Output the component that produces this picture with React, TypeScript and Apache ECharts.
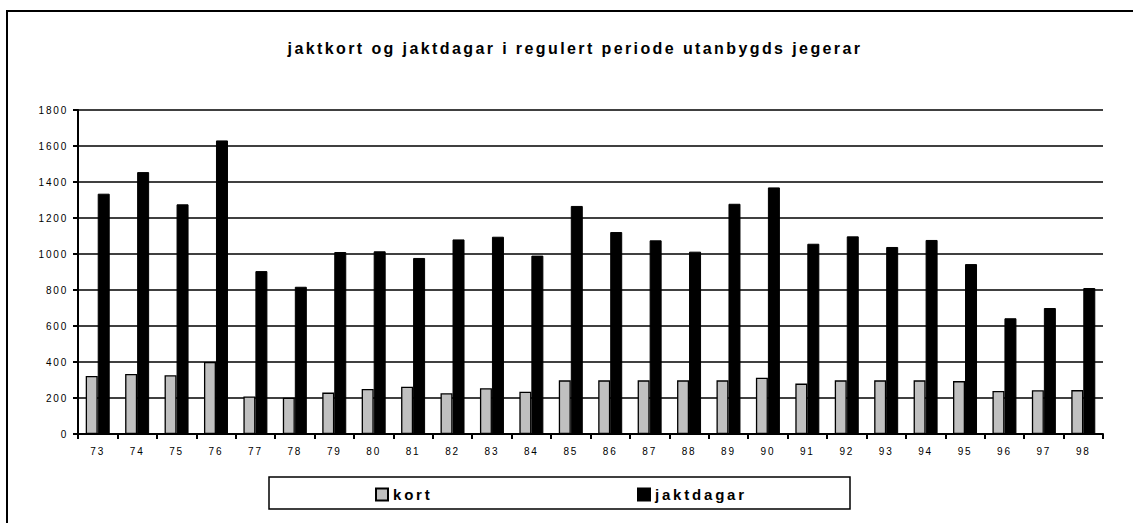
import React, { useEffect, useRef } from "react";
import * as echarts from "echarts";

const TITLE = "jaktkort og jaktdagar i regulert periode utanbygds jegerar";
const years = ["73","74","75","76","77","78","79","80","81","82","83","84","85","86","87","88","89","90","91","92","93","94","95","96","97","98"];
const kort = [322,333,326,400,209,202,230,250,263,226,254,235,298,298,298,298,298,313,280,298,298,298,294,239,243,244];
const jaktdagar = [1335,1455,1276,1631,905,818,1011,1015,978,1081,1096,991,1267,1122,1076,1013,1279,1370,1057,1098,1039,1078,944,643,700,811];

const FONT = '"Liberation Sans", Arial, sans-serif';

export default function App() {
  const ref = useRef<HTMLDivElement>(null);
  useEffect(() => {
    const chart = echarts.init(ref.current!, null, { renderer: "svg" });
    const option: any = {
      animation: false,
      backgroundColor: "#fff",
      grid: { left: 78, right: 30, top: 110, bottom: 89, containLabel: false },
      graphic: [
        { type: "rect", z: 0, shape: { x: 7, y: 11, width: 1140, height: 520 }, style: { fill: "none", stroke: "#000", lineWidth: 2 } },
        { type: "rect", z: 0, shape: { x: 269, y: 477, width: 581, height: 32 }, style: { fill: "#fff", stroke: "#000", lineWidth: 1.5 } },
        { type: "text", z: 5, x: 575, y: 48, style: { text: TITLE, fontSize: 16, fontWeight: "bold", fontFamily: FONT, fill: "#000", align: "center", verticalAlign: "middle" } },
      ],
      legend: [
        { data: ["kort"], left: 375, top: 487, padding: 0, itemWidth: 12, itemHeight: 12, icon: "rect", z: 10,
          textStyle: { fontSize: 15, fontWeight: "bold", fontFamily: FONT, color: "#000" } },
        { data: ["jaktdagar"], left: 637, top: 487, padding: 0, itemWidth: 12, itemHeight: 12, icon: "rect", z: 10,
          textStyle: { fontSize: 15, fontWeight: "bold", fontFamily: FONT, color: "#000" } },
      ],
      xAxis: {
        type: "category",
        data: years,
        boundaryGap: true,
        axisLine: { show: true, lineStyle: { color: "#000", width: 2 } },
        axisTick: { show: true, length: 5, lineStyle: { color: "#000", width: 2 } },
        axisLabel: { color: "#000", fontSize: 10, fontFamily: FONT, margin: 12, interval: 0 },
        splitLine: { show: false },
      },
      yAxis: {
        type: "value",
        min: 0,
        max: 1800,
        interval: 200,
        axisLine: { show: true, lineStyle: { color: "#000", width: 2 } },
        axisTick: { show: true, length: 5, lineStyle: { color: "#000", width: 2 } },
        axisLabel: { color: "#000", fontSize: 10, fontFamily: FONT, margin: 10, formatter: (v: number) => String(v) },
        splitLine: { show: true, lineStyle: { color: "#000", width: 1.5 } },
      },
      series: [
        { name: "kort", type: "bar", data: kort, barWidth: 12, barGap: "0%",
          itemStyle: { color: "#c0c0c0", borderColor: "#000", borderWidth: 1.3 } },
        { name: "jaktdagar", type: "bar", data: jaktdagar, barWidth: 12, barGap: "0%",
          itemStyle: { color: "#000", borderColor: "#000", borderWidth: 1 } },
      ],
    };
    chart.setOption(option);
    const spacing = () => {
      ref.current?.querySelectorAll("text").forEach((t) => {
        const s = t.textContent || "";
        let ls = 1.8;
        if (s === TITLE) ls = 2.4;
        else if (s === "kort" || s === "jaktdagar") ls = 2.8;
        t.setAttribute("letter-spacing", String(ls));
      });
    };
    spacing();
    chart.on("finished", spacing);
    return () => chart.dispose();
  }, []);
  return (
    <div
      ref={ref}
      style={{ position: "absolute", left: 0, top: 0, width: 1133, height: 523, background: "#fff" }}
    />
  );
}
